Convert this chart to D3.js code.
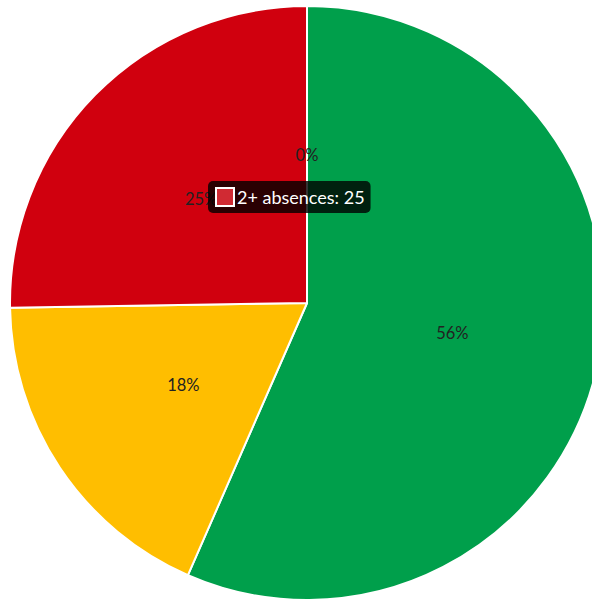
<!DOCTYPE html>
<html><head><meta charset="utf-8">
<script src="https://cdn.jsdelivr.net/npm/d3@7"></script>
<style>body{margin:0;background:#fff;overflow:hidden}svg{display:block}</style>
</head><body>
<svg id="c" width="592" height="601"></svg>
<script>
const categories = ["0 absences", "1 absence", "2+ absences", "Unknown"];
const values = [56, 18, 25, 0];
const colors = ["#009f4b", "#ffbe00", "#d0000e", "#888888"];
const labels = ["56%", "18%", "25%", "0%"];
const tooltipIndex = 2;

const svg = d3.select("#c");
const cx = 307, cy = 303, r = 297;
const g = svg.append("g").attr("transform", `translate(${cx},${cy})`);
const pie = d3.pie().sort(null).value(d => d)(values);
const arc = d3.arc().innerRadius(0).outerRadius(r);
const labelArc = d3.arc().innerRadius(r / 2).outerRadius(r / 2);

g.selectAll("path").data(pie).join("path")
  .attr("d", arc)
  .attr("fill", (d, i) => colors[i])
  .attr("stroke", "#fff").attr("stroke-width", 2).attr("stroke-linejoin", "round");

g.selectAll("text.lbl").data(pie).join("text").attr("class", "lbl")
  .attr("transform", d => `translate(${labelArc.centroid(d)})`)
  .attr("text-anchor", "middle").attr("dominant-baseline", "central")
  .attr("font-family", "Lato, sans-serif").attr("font-size", 16.5).attr("fill", "#222")
  .text((d, i) => labels[i]);

// tooltip
const tt = svg.append("g");
const text = `${categories[tooltipIndex]}: ${values[tooltipIndex]}`;
const t = tt.append("text").attr("font-family", "Lato, sans-serif").attr("font-size", 18)
  .attr("fill", "#fff").text(text);
const tw = t.node().getComputedTextLength();
const bx = 208, by = 181, bw = 29 + tw + 6, bh = 32;
tt.insert("rect", "text").attr("x", bx).attr("y", by).attr("width", bw).attr("height", bh)
  .attr("rx", 5).attr("fill", "rgba(0,0,0,0.8)");
tt.append("rect").attr("x", bx + 8).attr("y", by + 7).attr("width", 18).attr("height", 18)
  .attr("fill", "#d02a33").attr("stroke", "#fff").attr("stroke-width", 2);
t.attr("x", bx + 29).attr("y", by + 23);
</script>
</body></html>
